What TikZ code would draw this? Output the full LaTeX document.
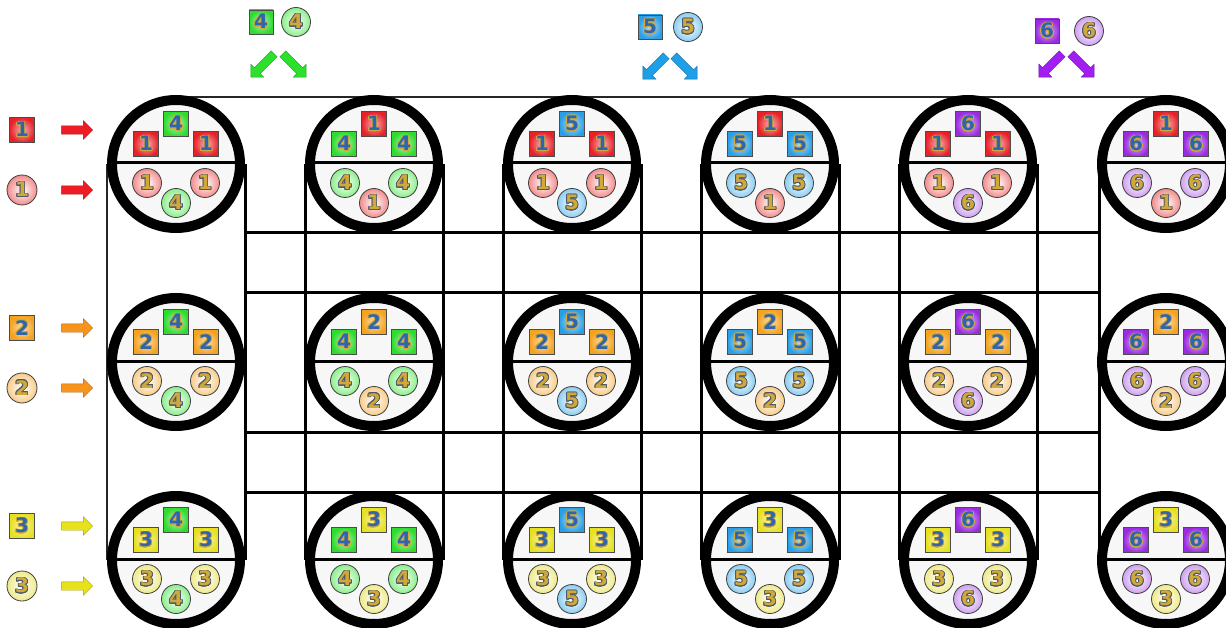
\documentclass[tikz,border=0pt]{standalone}
\usepackage{fontspec}
\setmainfont{DejaVu Sans}
\usepackage{contour}
\contourlength{0.8pt}
\usetikzlibrary{shapes.arrows}
\definecolor{sq1}{HTML}{E62228}
\definecolor{sq2}{HTML}{F5A21E}
\definecolor{sq3}{HTML}{E6E020}
\definecolor{sq4}{HTML}{2EDB2E}
\definecolor{sq5}{HTML}{2A9FE6}
\definecolor{sq6}{HTML}{9A2CE0}
\definecolor{ci1}{HTML}{F28C8C}
\definecolor{ci2}{HTML}{F8CC8A}
\definecolor{ci3}{HTML}{EEEA8A}
\definecolor{ci4}{HTML}{8CEE8C}
\definecolor{ci5}{HTML}{8CCDF2}
\definecolor{ci6}{HTML}{CFA0F0}
\definecolor{ar1}{HTML}{EE1C24}
\definecolor{ar2}{HTML}{F7941D}
\definecolor{ar3}{HTML}{E8E21C}
\definecolor{ar4}{HTML}{2EE02E}
\definecolor{ar5}{HTML}{1E9FE8}
\definecolor{ar6}{HTML}{A21EF0}
\definecolor{digblue}{HTML}{2E66AE}
\definecolor{diggold}{HTML}{D2A83A}
\definecolor{diggrey}{HTML}{4A5A6A}
\newcommand{\sqdig}[1]{\contour{diggold}{\textcolor{digblue}{#1}}}
\newcommand{\cidig}[1]{\contour{diggrey}{\textcolor{diggold}{#1}}}
\tikzset{
  sqbox/.style={draw=black!70, line width=0.6pt, minimum size=25pt, inner sep=0pt,
    inner color=#1!35!white, outer color=#1,
    font=\bfseries\fontsize{20}{20}\selectfont},
  cibox/.style={circle, draw=black!75, line width=0.8pt, minimum size=29pt, inner sep=0pt,
    inner color=white, outer color=#1,
    font=\bfseries\fontsize{20}{20}\selectfont},
  blockarrow/.style={single arrow, draw=#1!70!black, line width=0.4pt, fill=#1,
    minimum height=31pt, inner xsep=0pt, inner ysep=4pt, single arrow head extend=5pt,
    single arrow tip angle=90},
  outerline/.style={line width=1.5pt, black!85},
  gridline/.style={line width=3pt, black},
  ringline/.style={line width=10pt, black},
  divider/.style={line width=3pt, black},
}
\begin{document}
\begin{tikzpicture}[x=1pt,y=-1pt]
\useasboundingbox (0,0) rectangle (1226,628);
\clip (0,0) rectangle (1226,628);
\fill[white] (0,0) rectangle (1226,628);
% frame and grid lines
\draw[outerline] (176,97) -- (1166,97);
\draw[outerline] (107,164) -- (107,560);
\foreach \x in {245,305,443,503,641,701,839,899,1037,1099}
  \draw[gridline] (\x,164) -- (\x,560);
\foreach \y in {233,293,432,492}
  \draw[gridline] (245,\y) -- (1099,\y);
% connector modules
\foreach \c in {1,...,6}{
  \foreach \r in {1,2,3}{
    \pgfmathsetmacro{\cx}{176+198*(\c-1)}
    \pgfmathsetmacro{\cy}{164+198*(\r-1)}
    \pgfmathtruncatemacro{\K}{4+floor((\c-1)/2)}
    \pgfmathtruncatemacro{\odd}{mod(\c,2)}
    \ifnum\odd=1 \edef\A{\K}\edef\B{\r}\else\edef\A{\r}\edef\B{\K}\fi
    \fill[white!97!black] (\cx,\cy) circle (60);
    \draw[divider] (\cx-60,\cy-1) -- (\cx+60,\cy-1);
    \node[sqbox=sq\A] (t-\r-\c) at (\cx,\cy-40) {\sqdig{\A}};
    \node[sqbox=sq\B] (l-\r-\c) at (\cx-30,\cy-20) {\sqdig{\B}};
    \node[sqbox=sq\B] (r-\r-\c) at (\cx+30,\cy-20) {\sqdig{\B}};
    \node[cibox=ci\B] (cl-\r-\c) at (\cx-29,\cy+19) {\cidig{\B}};
    \node[cibox=ci\B] (cr-\r-\c) at (\cx+29,\cy+19) {\cidig{\B}};
    \node[cibox=ci\A] (cb-\r-\c) at (\cx,\cy+39) {\cidig{\A}};
    \draw[ringline] (\cx,\cy) circle (64);
  }
}
% left legend
\foreach \r in {1,2,3}{
  \pgfmathsetmacro{\ys}{130+198*(\r-1)}
  \pgfmathsetmacro{\yc}{190+198*(\r-1)}
  \node[sqbox=sq\r] (ls-\r) at (22,\ys) {\sqdig{\r}};
  \node[blockarrow=ar\r] (las-\r) at (75,\ys) {};
  \node[cibox=ci\r, minimum size=30pt] (lc-\r) at (22,\yc) {\cidig{\r}};
  \node[blockarrow=ar\r] (lac-\r) at (75,\yc) {};
}
% top legend
\node[sqbox=sq4, minimum size=24pt] (ts-4) at (261,22) {\sqdig{4}};
\node[cibox=ci4, minimum size=29pt] (tc-4) at (296,22) {\cidig{4}};
\node[blockarrow=ar4, rotate=225, minimum height=33pt] (ta-4l) at (264,64) {};
\node[blockarrow=ar4, rotate=-45, minimum height=33pt] (ta-4r) at (293,64) {};
\node[sqbox=sq5, minimum size=24pt] (ts-5) at (650,27) {\sqdig{5}};
\node[cibox=ci5, minimum size=29pt] (tc-5) at (688,27) {\cidig{5}};
\node[blockarrow=ar5, rotate=225, minimum height=33pt] (ta-5l) at (656,66) {};
\node[blockarrow=ar5, rotate=-45, minimum height=33pt] (ta-5r) at (684,66) {};
\node[sqbox=sq6, minimum size=24pt] (ts-6) at (1047,31) {\sqdig{6}};
\node[cibox=ci6, minimum size=29pt] (tc-6) at (1089,31) {\cidig{6}};
\node[blockarrow=ar6, rotate=225, minimum height=33pt] (ta-6l) at (1052,64) {};
\node[blockarrow=ar6, rotate=-45, minimum height=33pt] (ta-6r) at (1081,64) {};
\end{tikzpicture}
\end{document}
